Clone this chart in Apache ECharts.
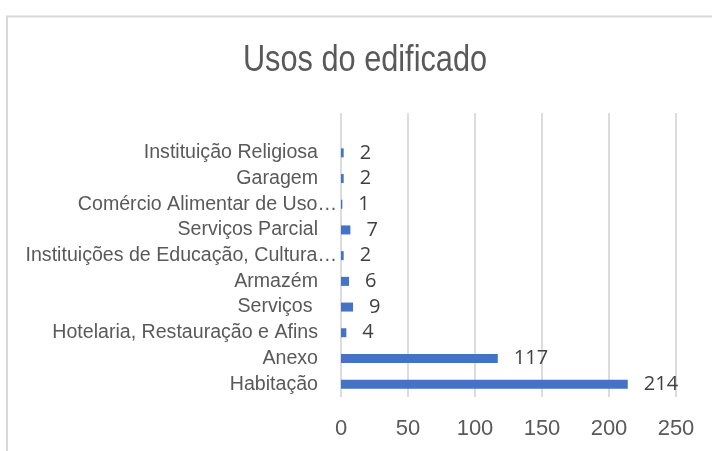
<!DOCTYPE html>
<html>
<head>
<meta charset="utf-8">
<script src="https://cdn.jsdelivr.net/npm/echarts@6/dist/echarts.min.js"></script>
<style>
html,body{margin:0;padding:0;background:#fff;}
#chart{width:712px;height:451px;}
</style>
</head>
<body>
<div id="chart"></div>
<script>
const titleText = 'Usos do edificado';
const categories = [
  'Instituição Religiosa',
  'Garagem',
  'Comércio Alimentar de Uso…',
  'Serviços Parcial',
  'Instituições de Educação, Cultura…',
  'Armazém',
  'Serviços ',
  'Hotelaria, Restauração e Afins',
  'Anexo',
  'Habitação'
];
const values = [2, 2, 1, 7, 2, 6, 9, 4, 117, 214];
const xTicks = [0, 50, 100, 150, 200, 250];

const chart = echarts.init(document.getElementById('chart'), null, {renderer: 'canvas'});
const regular = '"Liberation Sans", Arial, sans-serif';

chart.setOption({
  animation: false,
  backgroundColor: '#ffffff',
  graphic: [{
    type: 'rect',
    shape: {x: 7, y: 16.5, width: 800, height: 500},
    style: {fill: 'none', stroke: '#d9d9d9', lineWidth: 2},
    silent: true
  }, {
    type: 'text',
    x: 365, y: 60.5,
    scaleX: 0.83,
    style: {
      text: titleText, x: 0, y: 0, align: 'center', verticalAlign: 'middle',
      font: 'normal 37px "Liberation Sans", Arial, sans-serif', fill: '#595959'
    },
    silent: true
  }],
  grid: [
    {left: 341, right: 36, top: 113, bottom: 54},
    {left: 341, right: 36, top: 140, bottom: 54}
  ],
  xAxis: [
    {
      gridIndex: 0, type: 'value', min: xTicks[0], max: xTicks[xTicks.length - 1], interval: 50,
      axisLine: {show: false}, axisTick: {show: false},
      splitLine: {show: true, lineStyle: {color: '#dcdcdc', width: 2}},
      axisLabel: {margin: 21, fontFamily: regular, fontSize: 22, color: '#595959'}
    },
    {
      gridIndex: 1, type: 'value', min: xTicks[0], max: xTicks[xTicks.length - 1],
      show: false
    }
  ],
  yAxis: [
    {gridIndex: 0, type: 'value', show: false, min: 0, max: 1},
    {
      gridIndex: 1, type: 'category', data: categories, inverse: true,
      axisLine: {show: false}, axisTick: {show: false}, splitLine: {show: false},
      axisLabel: {
        margin: 4,
        formatter: function (v) {
          return v.indexOf('…') >= 0 ? '{t|' + v + '}' : '{n|' + v + '}';
        },
        rich: {
          n: {fontFamily: regular, fontSize: 19.6, color: '#595959', padding: [0, 19, 0, 0]},
          t: {fontFamily: regular, fontSize: 19.6, color: '#595959'}
        }
      }
    }
  ],
  series: [{
    type: 'bar',
    xAxisIndex: 1,
    yAxisIndex: 1,
    data: values,
    barWidth: 9,
    itemStyle: {color: '#4472C4'},
    label: {
      show: true, position: 'right', distance: 16,
      fontFamily: '"Open Sans", sans-serif', fontSize: 20, color: '#404040'
    }
  }]
});
</script>
</body>
</html>
